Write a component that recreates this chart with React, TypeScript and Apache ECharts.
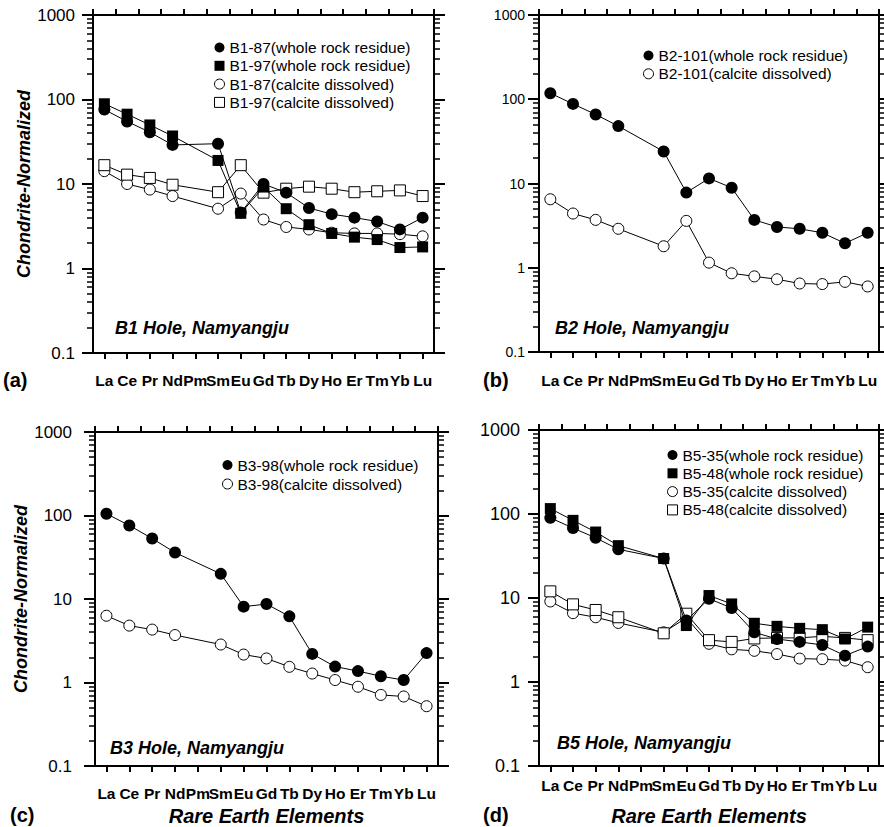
import React, { useEffect, useRef } from "react";
import * as echarts from "echarts";

const CATS = ["La", "Ce", "Pr", "Nd", "Pm", "Sm", "Eu", "Gd", "Tb", "Dy", "Ho", "Er", "Tm", "Yb", "Lu"];
const Y_LABELS: Record<string, string> = { "0.1": "0.1", "1": "1", "10": "10", "100": "100", "1000": "1000" };

// Panel (a) B1 hole
const B1_87_WHOLE = [76, 55, 41, 29, null, 30, 4.6, 10, 7.9, 5.2, 4.4, 4.0, 3.6, 2.9, 4.0];
const B1_97_WHOLE = [89, 67, 50, 37, null, 19, 4.5, 9.2, 5.1, 3.3, 2.6, 2.35, 2.2, 1.77, 1.8];
const B1_87_CALC = [14.2, 10, 8.6, 7.2, null, 5.1, 7.7, 3.8, 3.1, 2.9, 2.65, 2.6, 2.6, 2.55, 2.4];
const B1_97_CALC = [16.7, 12.9, 11.8, 9.8, null, 8.0, 16.7, 7.9, 8.8, 9.3, 8.8, 8.0, 8.2, 8.4, 7.2];

// Panel (b) B2 hole
const B2_101_WHOLE = [118, 88, 66, 48, null, 24, 7.8, 11.5, 8.9, 3.7, 3.05, 2.9, 2.6, 1.95, 2.6];
const B2_101_CALC = [6.5, 4.4, 3.7, 2.9, null, 1.8, 3.6, 1.15, 0.86, 0.79, 0.73, 0.65, 0.64, 0.68, 0.6];

// Panel (c) B3 hole
const B3_98_WHOLE = [105, 76, 53, 36, null, 20, 8.1, 8.7, 6.2, 2.2, 1.55, 1.37, 1.19, 1.07, 2.25];
const B3_98_CALC = [6.3, 4.8, 4.3, 3.7, null, 2.85, 2.16, 1.94, 1.54, 1.28, 1.07, 0.89, 0.71, 0.68, 0.52];

// Panel (d) B5 hole
const B5_35_WHOLE = [90, 68, 52, 38, null, 29.5, 5.4, 9.8, 7.6, 3.9, 3.25, 3.0, 2.76, 2.06, 2.64];
const B5_48_WHOLE = [116, 84, 61, 42, null, 29.5, 4.7, 10.7, 8.5, 5.0, 4.6, 4.35, 4.2, 3.25, 4.5];
const B5_35_CALC = [9.1, 6.6, 5.9, 5.05, null, 3.9, 5.8, 2.85, 2.45, 2.35, 2.15, 1.9, 1.87, 1.8, 1.5];
const B5_48_CALC = [12, 8.4, 7.2, 5.9, null, 3.8, 6.5, 3.15, 3.0, 3.3, 3.35, 3.35, 3.5, 3.35, 3.15];

const FONT = "Liberation Sans, Arial, Helvetica, sans-serif";

type Kind = "fc" | "fs" | "oc" | "os";
type S = { name: string; data: (number | null)[]; kind: Kind };

const panels = [
  {
    grid: { left: 93, top: 15, width: 341, height: 338 },
    yLabelSize: 17, yLabelMargin: 18, xLabelMargin: 19,
    yName: true, xName: false, yNameGap: 52,
    legend: { left: 214, top: 39.5, gap: 2.3 },
    title: { text: "B1 Hole, Namyangju", x: 115, y: 328 },
    letter: { text: "(a)", x: 3, y: 380 },
    series: [
      { name: "B1-87(calcite dissolved)", data: B1_87_CALC, kind: "oc" },
      { name: "B1-97(calcite dissolved)", data: B1_97_CALC, kind: "os" },
      { name: "B1-97(whole rock residue)", data: B1_97_WHOLE, kind: "fs" },
      { name: "B1-87(whole rock residue)", data: B1_87_WHOLE, kind: "fc" },
    ] as S[],
    legendOrder: ["B1-87(whole rock residue)", "B1-97(whole rock residue)", "B1-87(calcite dissolved)", "B1-97(calcite dissolved)"],
  },
  {
    grid: { left: 539, top: 15, width: 340, height: 337 },
    yLabelSize: 14, yLabelMargin: 14, xLabelMargin: 20,
    yName: false, xName: false, yNameGap: 58,
    legend: { left: 643, top: 47.5, gap: 2.3 },
    title: { text: "B2 Hole, Namyangju", x: 555, y: 328 },
    letter: { text: "(b)", x: 483, y: 380 },
    series: [
      { name: "B2-101(calcite dissolved)", data: B2_101_CALC, kind: "oc" },
      { name: "B2-101(whole rock residue)", data: B2_101_WHOLE, kind: "fc" },
    ] as S[],
    legendOrder: ["B2-101(whole rock residue)", "B2-101(calcite dissolved)"],
  },
  {
    grid: { left: 95, top: 432, width: 343, height: 336 },
    yLabelSize: 17, yLabelMargin: 23, xLabelMargin: 19,
    yName: true, xName: true, yNameGap: 60,
    legend: { left: 222, top: 457, gap: 3 },
    title: { text: "B3 Hole, Namyangju", x: 110, y: 748 },
    letter: { text: "(c)", x: 10, y: 815 },
    series: [
      { name: "B3-98(calcite dissolved)", data: B3_98_CALC, kind: "oc" },
      { name: "B3-98(whole rock residue)", data: B3_98_WHOLE, kind: "fc" },
    ] as S[],
    legendOrder: ["B3-98(whole rock residue)", "B3-98(calcite dissolved)"],
  },
  {
    grid: { left: 539, top: 430, width: 340, height: 337 },
    yLabelSize: 18, yLabelMargin: 19, xLabelMargin: 11,
    yName: false, xName: true, yNameGap: 58,
    legend: { left: 667, top: 447, gap: 2.3 },
    title: { text: "B5 Hole, Namyangju", x: 557, y: 743 },
    letter: { text: "(d)", x: 483, y: 815 },
    series: [
      { name: "B5-35(calcite dissolved)", data: B5_35_CALC, kind: "oc" },
      { name: "B5-48(calcite dissolved)", data: B5_48_CALC, kind: "os" },
      { name: "B5-35(whole rock residue)", data: B5_35_WHOLE, kind: "fc" },
      { name: "B5-48(whole rock residue)", data: B5_48_WHOLE, kind: "fs" },
    ] as S[],
    legendOrder: ["B5-35(whole rock residue)", "B5-48(whole rock residue)", "B5-35(calcite dissolved)", "B5-48(calcite dissolved)"],
  },
];

function symbolOf(kind: Kind) {
  return kind === "fc" || kind === "oc" ? "circle" : "rect";
}
function itemStyleOf(kind: Kind) {
  if (kind === "fc" || kind === "fs") return { color: "#000", borderColor: "#000", borderWidth: 0 };
  return { color: "#fff", borderColor: "#000", borderWidth: 1 };
}
function sizeOf(kind: Kind) {
  if (kind === "fc") return 12;
  return 11;
}

const TICK = "#000";

function buildOption() {
  const grid: any[] = [];
  const xAxis: any[] = [];
  const yAxis: any[] = [];
  const series: any[] = [];
  const legend: any[] = [];
  const graphic: any[] = [];

  panels.forEach((p, i) => {
    grid.push({ ...p.grid, containLabel: false });
    const axisLine = () => ({ show: true, onZero: false, lineStyle: { color: "#000", width: 2 } });
    const minorTick = () => ({ show: true, splitNumber: 9, length: 6, lineStyle: { color: TICK, width: 1.5 } });
    xAxis.push({
      type: "category", gridIndex: i, data: CATS, position: "bottom", boundaryGap: true,
      axisLine: axisLine(),
      axisTick: { show: true, alignWithLabel: true, interval: 0, length: 6, lineStyle: { color: TICK, width: 2 } },
      axisLabel: { interval: 0, margin: p.xLabelMargin, color: "#000", fontWeight: "bold", fontSize: 15.5, fontFamily: FONT },
      splitLine: { show: false },
      name: p.xName ? "Rare Earth Elements" : "",
      nameLocation: "middle", nameGap: 40,
      nameTextStyle: { color: "#000", fontWeight: "bold", fontStyle: "italic", fontSize: 20, fontFamily: FONT },
    });
    xAxis.push({
      type: "category", gridIndex: i, data: CATS, position: "top", boundaryGap: true,
      axisLine: axisLine(),
      axisTick: { show: true, interval: 0, length: 6, lineStyle: { color: TICK, width: 2 } },
      axisLabel: { show: false },
      splitLine: { show: false },
    });
    yAxis.push({
      type: "log", logBase: 10, min: 0.1, max: 1000, gridIndex: i, position: "left",
      axisLine: axisLine(),
      axisTick: { show: true, length: 11, lineStyle: { color: TICK, width: 2 } },
      minorTick: minorTick(),
      minorSplitLine: { show: false },
      axisLabel: {
        color: "#000", fontSize: p.yLabelSize, margin: p.yLabelMargin, fontFamily: FONT,
        formatter: (v: number) => Y_LABELS[String(v)] ?? String(v),
      },
      splitLine: { show: false },
      name: p.yName ? "Chondrite-Normalized" : "",
      nameLocation: "middle", nameGap: p.yNameGap,
      nameTextStyle: { color: "#000", fontWeight: "bold", fontStyle: "italic", fontSize: 18, fontFamily: FONT },
    });
    yAxis.push({
      type: "log", logBase: 10, min: 0.1, max: 1000, gridIndex: i, position: "right",
      axisLine: axisLine(),
      axisTick: { show: true, length: 11, lineStyle: { color: TICK, width: 2 } },
      minorTick: minorTick(),
      minorSplitLine: { show: false },
      axisLabel: { show: false },
      splitLine: { show: false },
    });

    p.series.forEach((s, k) => {
      series.push({
        type: "line", name: s.name, xAxisIndex: 2 * i, yAxisIndex: 2 * i,
        data: s.data, connectNulls: true,
        symbol: symbolOf(s.kind), symbolSize: sizeOf(s.kind), showAllSymbol: true,
        lineStyle: { color: "#000", width: 1 },
        itemStyle: itemStyleOf(s.kind),
        z: 3 + k,
      });
    });

    const kindByName: Record<string, Kind> = {};
    p.series.forEach((s) => (kindByName[s.name] = s.kind));
    legend.push({
      orient: "vertical", left: p.legend.left, top: p.legend.top,
      itemWidth: 10, itemHeight: 10, itemGap: p.legend.gap, selectedMode: false,
      padding: 0,
      textStyle: { color: "#000", fontSize: 15.5, fontFamily: FONT, lineHeight: 15 },
      data: p.legendOrder.map((n) => {
        const kd = kindByName[n];
        return {
          name: n,
          icon: kd === "fc" || kd === "oc" ? "circle" : "rect",
          itemStyle: kd === "fc" || kd === "fs"
            ? { color: "#000", borderWidth: 0 }
            : { color: "#fff", borderColor: "#000", borderWidth: 1 },
        };
      }),
    });

    graphic.push({
      type: "text", x: p.title.x, y: p.title.y,
      style: { text: p.title.text, fill: "#000", fontSize: 18, fontWeight: "bold", fontStyle: "italic", fontFamily: FONT, verticalAlign: "middle", align: "left" },
    });
    graphic.push({
      type: "text", x: p.letter.x, y: p.letter.y,
      style: { text: p.letter.text, fill: "#000", fontSize: 20, fontWeight: "bold", fontFamily: FONT, verticalAlign: "middle", align: "left" },
    });
  });

  return { animation: false, backgroundColor: "#fff", grid, xAxis, yAxis, series, legend, graphic };
}

export default function App() {
  const ref = useRef<HTMLDivElement>(null);
  useEffect(() => {
    if (!ref.current) return;
    const chart = echarts.init(ref.current, undefined, { renderer: "svg" });
    chart.setOption(buildOption() as any);
    return () => chart.dispose();
  }, []);
  return (
    <div
      ref={ref}
      style={{ position: "absolute", left: 0, top: 0, width: 884, height: 827, background: "#fff" }}
    />
  );
}
